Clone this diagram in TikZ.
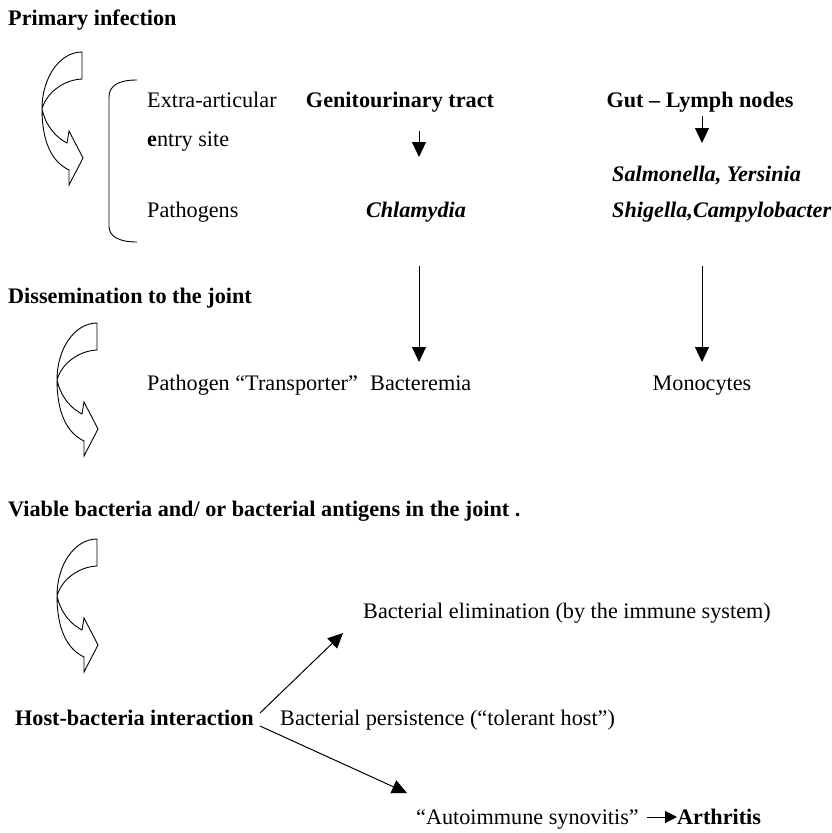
\documentclass[tikz,border=0pt]{standalone}
\usepackage{fontspec}
\setmainfont{Liberation Serif}
\usetikzlibrary{calc,positioning,arrows.meta}

\tikzset{
  bendarrow/.pic={
    \draw[line width=0.9pt,fill=white,line join=miter]
      (0,0) .. controls (-22,0) and (-40,25) .. (-40,57)
      .. controls (-40,90) and (-30,110) .. (-13,118)
      -- (-13,133) -- (1,106) -- (-13,79) -- (-15,91)
      .. controls (-25,86) and (-36,75) .. (-40,57)
      .. controls (-36,42) and (-20,28) .. (0,27)
      -- cycle;
  }
}

\begin{document}
\begin{tikzpicture}[x=1pt,y=-1pt,
    every node/.style={inner sep=0pt,font=\fontsize{22.2}{26}\selectfont},
    lbl/.style={anchor=base west},
    ctr/.style={anchor=base},
    hdr/.style={anchor=base west,font=\fontsize{22.2}{26}\selectfont\bfseries},
    germ/.style={font=\fontsize{22.2}{26}\selectfont\bfseries\itshape},
    arr/.style={line width=1pt,-{Triangle[width=14pt,length=15pt]}},
    tiparr/.style={line width=1pt,-{Triangle[width=12pt,length=12pt]}}]
    \useasboundingbox (0,0) rectangle (831,833);

    % Headings
    \node[hdr] (prim) at (8,25) {Primary infection};
    \node[hdr] (dis) at (8,303) {Dissemination to the joint};
    \node[hdr] (viab) at (8,516) {Viable bacteria and/ or bacterial antigens in the joint .};

    % Bent arrows
    \pic at (82,52) {bendarrow};
    \pic at (97,323) {bendarrow};
    \pic at (97,539) {bendarrow};

    % Bracket
    \draw[line width=0.9pt]
      (137,80) .. controls (118,80) and (109,86) .. (109,97)
      -- (109,226) .. controls (109,236) and (118,242) .. (137,242);

    % Primary infection
    \node[lbl] (extra) at (147,107) {Extra-articular};
    \node[lbl] (entry) at (147,146) {\textbf{e}ntry site};
    \node[lbl] (pathg) at (147,217) {Pathogens};
    \node[ctr,font=\fontsize{22.2}{26}\selectfont\bfseries] (gen) at (400,107) {Genitourinary tract};
    \node[ctr,germ] (chl) at (416,217) {Chlamydia};
    \node[ctr,font=\fontsize{22.2}{26}\selectfont\bfseries] (gut) at (700,107) {Gut -- Lymph nodes};
    \node[lbl,germ] (salm) at (612,181) {Salmonella, Yersinia};
    \node[lbl,germ] (shig) at (612,217) {Shigella,Campylobacter};

    % Dissemination
    \node[lbl] (trans) at (147,390) {Pathogen ``Transporter''};
    \node[lbl] (bact) at (370,390) {Bacteremia};
    \node[ctr] (mono) at (702,390) {Monocytes};

    % Joint
    \node[hdr] (host) at (15,725) {Host-bacteria interaction};
    \node[lbl] (elim) at (363,618) {Bacterial elimination (by the immune system)};
    \node[lbl] (pers) at (280,725) {Bacterial persistence (``tolerant host'')};
    \node[lbl] (auto) at (416,824) {``Autoimmune synovitis''};
    \node[hdr,right=38pt of auto.base east,anchor=base west] (arth) {Arthritis};

    % Points
    \coordinate (G1) at (419,131);
    \coordinate (G2) at (419,157);
    \coordinate (L1) at (702,116);
    \coordinate (L2) at (702,143);
    \coordinate (G3) at (419,266);
    \coordinate (G4) at (419,362);
    \coordinate (L3) at (702,266);
    \coordinate (L4) at (702,362);
    \coordinate (E1) at (343,633);
    \coordinate (A1) at (407,793);

    % Arrows
    \draw[arr] (G1) -- (G2);
    \draw[arr] (L1) -- (L2);
    \draw[arr] (G3) -- (G4);
    \draw[arr] (L3) -- (L4);
    \draw[arr] ($(host.base east)+(6,-12)$) -- (E1);
    \draw[arr] ($(host.base east)+(6,1)$) -- (A1);
    \draw[tiparr] ($(auto.base east)+(8,-7)$) -- ($(arth.base west)+(0,-7)$);
\end{tikzpicture}
\end{document}
